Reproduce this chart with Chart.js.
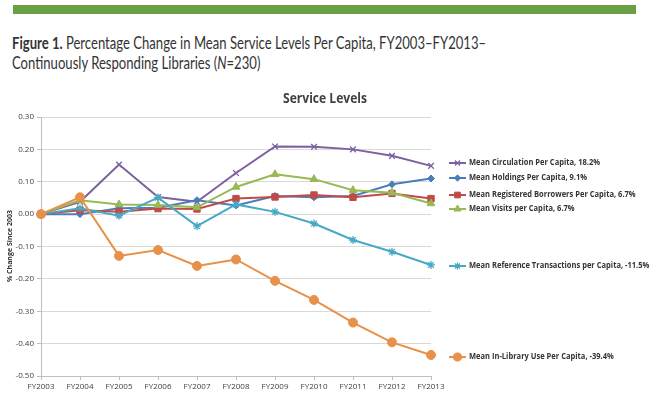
<!DOCTYPE html>
<html><head><meta charset="utf-8">
<script src="https://cdn.jsdelivr.net/npm/chart.js@4"></script>
<style>
html,body{margin:0;padding:0;background:#fff;width:653px;height:398px;overflow:hidden;}
#bar{position:absolute;left:13px;top:5px;width:623px;height:9px;background:#69a044;}
#title{position:absolute;left:12px;top:33px;font-family:Lato,"Open Sans",sans-serif;font-size:17px;line-height:20px;color:#333;transform:scaleX(0.77);transform-origin:0 0;white-space:nowrap;}
#title b{font-weight:700;}
#wrap{position:absolute;left:0;top:80px;width:653px;height:318px;}
</style></head><body>
<div id="bar"></div>
<div id="title"><b>Figure 1.</b> Percentage Change in Mean Service Levels Per Capita, FY2003–FY2013–<br>Continuously Responding Libraries (<i>N</i>=230)</div>
<div id="wrap"><canvas id="c" width="653" height="318"></canvas></div>
<script>
const categories = ["FY2003","FY2004","FY2005","FY2006","FY2007","FY2008","FY2009","FY2010","FY2011","FY2012","FY2013"];
const circulation = [0, 0.038, 0.153, 0.053, 0.038, 0.127, 0.209, 0.208, 0.200, 0.180, 0.149];
const holdings    = [0, 0.000, 0.018, 0.020, 0.043, 0.027, 0.056, 0.052, 0.056, 0.092, 0.110];
const borrowers   = [0, 0.012, 0.007, 0.017, 0.016, 0.048, 0.053, 0.059, 0.052, 0.064, 0.048];
const visits      = [0, 0.043, 0.030, 0.028, 0.021, 0.084, 0.123, 0.108, 0.074, 0.066, 0.033];
const reference   = [0, 0.018, -0.005, 0.051, -0.037, 0.030, 0.007, -0.029, -0.080, -0.116, -0.157];
const inLibrary   = [0, 0.052, -0.129, -0.111, -0.160, -0.140, -0.206, -0.265, -0.335, -0.396, -0.435];
const seriesLabels = ["Mean Circulation Per Capita, 18.2%","Mean Holdings Per Capita, 9.1%","Mean Registered Borrowers Per Capita, 6.7%","Mean Visits per Capita, 6.7%","Mean Reference Transactions per Capita, -11.5%","Mean In-Library Use Per Capita, -39.4%"];
const yTicks = [0.30,0.20,0.10,0.00,-0.10,-0.20,-0.30,-0.40,-0.50];

const colors = ["#7d60a0","#4a7ebb","#be4b48","#98b954","#46aac5","#e8914a"];
const markers = ["crossRot","rectRot","rect","triangle","star","circle"];
const radii = [4,3.5,4.5,4.5,4,4.5];
const legendY = [83,98,115,129,186,277]; // canvas coords
const data = [circulation,holdings,borrowers,visits,reference,inLibrary];

const datasets = data.map((d,i)=>({
  label: seriesLabels[i], data: d,
  borderColor: colors[i], backgroundColor: colors[i],
  borderWidth: 2, pointStyle: markers[i], pointRadius: radii[i],
  pointBorderWidth: (markers[i]==="crossRot"||markers[i]==="star")?1.3:1,
  pointBorderColor: colors[i], tension: 0, order: 6-i
}));

const legendPlugin = {
  id:'customLegend',
  afterDraw(chart){
    const ctx = chart.ctx;
    ctx.save();
    // chart title
    ctx.fillStyle = '#404040';
    ctx.font = 'bold 14px "Open Sans", sans-serif';
    ctx.textAlign = 'center'; ctx.textBaseline = 'middle';
    const tw = ctx.measureText('Service Levels').width;
    ctx.save(); ctx.translate(325,19); ctx.scale(84/tw,1);
    ctx.fillText('Service Levels', 0, 0); ctx.restore();
    // y axis title
    ctx.save();
    ctx.font = 'bold 7px "Open Sans", sans-serif';
    ctx.fillStyle = '#333';
    ctx.translate(10,166); ctx.rotate(-Math.PI/2);
    ctx.fillText('% Change Since 2003',0,0);
    ctx.restore();
    // legend
    ctx.textAlign = 'left';
    ctx.font = 'bold 8.5px "Open Sans", sans-serif';
    const sx = 131/ctx.measureText(seriesLabels[0]).width;
    datasets.forEach((ds,i)=>{
      const y = legendY[i];
      ctx.strokeStyle = ds.borderColor; ctx.lineWidth = 2;
      ctx.beginPath(); ctx.moveTo(449,y); ctx.lineTo(466,y); ctx.stroke();
      ctx.fillStyle = ds.borderColor; ctx.strokeStyle = ds.borderColor; ctx.lineWidth = ds.pointBorderWidth;
      Chart.helpers.drawPoint(ctx,{pointStyle:ds.pointStyle,rotation:0,borderWidth:ds.pointBorderWidth,radius:ds.pointRadius*0.9},457.5,y);
      ctx.fillStyle = '#333';
      ctx.save(); ctx.translate(469,y); ctx.scale(sx,1);
      ctx.fillText(ds.label, 0, 0);
      ctx.restore();
    });
    ctx.restore();
  }
};

new Chart(document.getElementById('c'),{
  type:'line',
  data:{labels:categories, datasets},
  options:{
    responsive:false, animation:false,
    layout:{padding:{top:37,right:222,left:0,bottom:0}},
    plugins:{legend:{display:false},title:{display:false},tooltip:{enabled:false}},
    scales:{
      x:{
        offset:false,
        grid:{display:true,drawOnChartArea:false,drawTicks:true,tickLength:4,color:'#bfbfbf'},
        border:{display:true,color:'#bfbfbf'},
        ticks:{color:'#404040',font:{size:8,family:'"Open Sans", sans-serif'},maxRotation:0,autoSkip:false,padding:2},
        afterFit(s){s.height=22;}
      },
      y:{
        min:-0.5,max:0.3,
        afterBuildTicks(s){s.ticks=yTicks.map(v=>({value:v}));},
        grid:{color:'#d9d9d9',lineWidth:1,drawTicks:true,tickLength:4,tickColor:'#bfbfbf'},
        border:{display:true,color:'#bfbfbf'},
        ticks:{color:'#404040',font:{size:8,family:'"Open Sans", sans-serif'},padding:3,callback:v=>v.toFixed(2)},
        title:{display:false},
        afterFit(s){s.width=41;}
      }
    }
  },
  plugins:[legendPlugin]
});
</script>
</body></html>
